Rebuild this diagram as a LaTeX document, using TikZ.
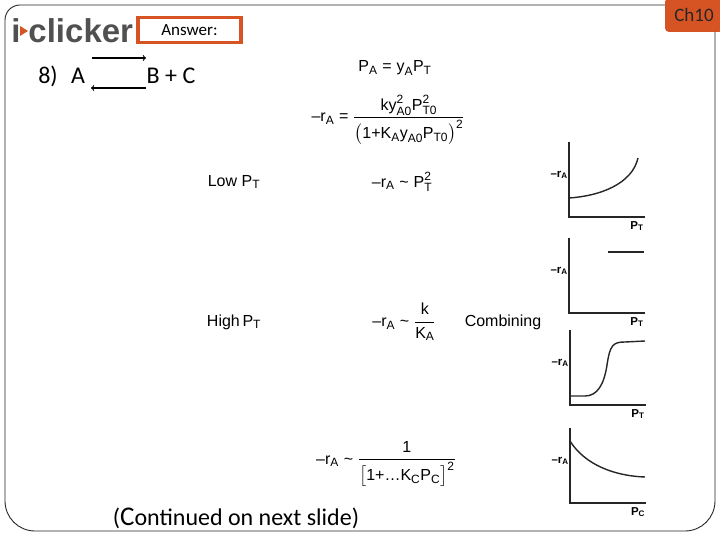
\documentclass[tikz,border=0pt]{standalone}
\usepackage{amsmath}
\usepackage{fontspec}
\setmainfont{Liberation Sans}
\newfontfamily\calibri{Carlito}
\usetikzlibrary{arrows}
\DeclareMathSizes{16}{16}{12}{9}
\definecolor{clickorange}{RGB}{214,84,36}
\definecolor{logogray}{RGB}{80,80,80}
\newcommand{\vsub}[2]{\text{#1}_{\text{#2}}}
\newcommand{\vsubsup}[3]{\text{#1}^{\text{#3}}_{\text{#2}}}
\newcommand{\eqsign}{\mathrel{\text{=}}}
\newcommand{\approxsign}{\mathrel{\text{\textasciitilde}}}

\begin{document}
\begin{tikzpicture}[x=1pt, y=-1pt, >=to, semithick,
  eq/.style={font=\fontsize{16}{18}\selectfont, inner sep=0pt},
  slidetext/.style={font=\calibri\fontsize{24}{28}\selectfont, inner sep=0pt},
  axis/.style={line width=1.4pt, black!85},
  curve/.style={line width=1.4pt, black!85},
  axlabel/.style={font=\bfseries\fontsize{11.5}{12}\selectfont, inner sep=0pt}]
	\useasboundingbox (0,0) rectangle (720,540);
	% slide frame
	\draw[line width=0.9pt, black!85] (5,300) [rounded corners=15pt] -- (5,5) -- (715,5)
		[rounded corners=30pt] -- (715,531) -- (5,531) -- cycle;
	\node[fill=clickorange, rounded corners=4pt, minimum width=58pt, minimum height=34pt,
		font=\calibri\fontsize{19}{20}\selectfont, text=black!85] (chapter) at (694,15) {Ch10};
	
	% header
	\node[font=\fontsize{33}{33}\selectfont\bfseries, text=logogray, inner sep=0pt, anchor=west] (logo) at (11,31) {i\hspace{8pt}clicker};
	\fill[clickorange] (20,26) -- (28,31) -- (20,36) -- cycle;
	\node[draw=clickorange, line width=3.2pt, minimum width=103pt, minimum height=25pt,
		font=\calibri\fontsize{17}{18}\selectfont] (answer) at (189.5,30) {Answer:};
	
	% reaction
	\node[slidetext, anchor=west] (number) at (38,76) {8)};
	\node[slidetext] (reactA) at (78,76) {A};
	\node[slidetext] (products) at (171,76) {B + C};
	\coordinate (fwd1) at (92,58);
	\coordinate (fwd2) at (146,58);
	\coordinate (back1) at (146,88);
	\coordinate (back2) at (91,88);
	\draw[->, line width=1.1pt] (fwd1) -- (fwd2);
	\draw[->, line width=1.1pt] (back1) -- (back2);
	
	% rate law
	\node[eq] (partial) at (395,68) {$\vsub{P}{A} \eqsign \vsub{y}{A}\vsub{P}{T}$};
	\node[eq] (rate) at (388,120) {$\vsub{--r}{A} \eqsign \dfrac{\text{k}\vsubsup{y}{A0}{2}\vsubsup{P}{T0}{2}}{\bigl(\text{1+}\vsub{K}{A}\vsub{y}{A0}\vsub{P}{T0}\bigr)^{\text{2}}}$};
	\node[eq] (low) at (234,182) {Low $\vsub{P}{T}$};
	\node[eq] (lowrate) at (402,182) {$\vsub{--r}{A} \approxsign \vsubsup{P}{T}{2}$};
	\node[eq] (high) at (234,322) {High\,$\vsub{P}{T}$};
	\node[eq] (highrate) at (404,322) {$\vsub{--r}{A} \approxsign \dfrac{\text{k}}{\vsub{K}{A}}$};
	\node[eq] (combining) at (503,322) {Combining};
	\node[eq] (inhibit) at (386,464) {$\vsub{--r}{A} \approxsign \dfrac{\text{1}}{\bigl[\text{1+\ldots}\vsub{K}{C}\vsub{P}{C}\bigr]^{\text{2}}}$};
	\node[slidetext] (continued) at (236,518) {({\fontsize{27}{28}\selectfont C}ontinued on next slide)};
	
	% sketches
	\foreach \gx/\gy/\gsub [count=\gi] in {569/217/T, 569/313/T, 570/405/T, 570/503/C} {
		\coordinate (top\gi) at (\gx,\gy-75);
		\coordinate (origin\gi) at (\gx,\gy);
		\coordinate (end\gi) at (\gx+76,\gy);
		\draw[axis] (top\gi) -- (origin\gi) -- (end\gi);
		\node[axlabel, anchor=east] (yname\gi) at (\gx-1,\gy-42) {--r$_{\text{A}}$};
		\node[axlabel] (xname\gi) at (\gx+68,\gy+9) {P$_{\text{\gsub}}$};
	}
	\draw[curve] (569,198) .. controls (600,196) and (632,184) .. (638,158);
	\draw[curve] (608,252) -- (644,252);
	\draw[curve] (570,396) -- (585,396) .. controls (597,396) and (604,385) .. (607,365)
		.. controls (610,345) and (613,342) .. (625,342) -- (645,341);
	\draw[curve] (570,441) .. controls (585,465) and (615,476) .. (645,477);
\end{tikzpicture}
\end{document}
